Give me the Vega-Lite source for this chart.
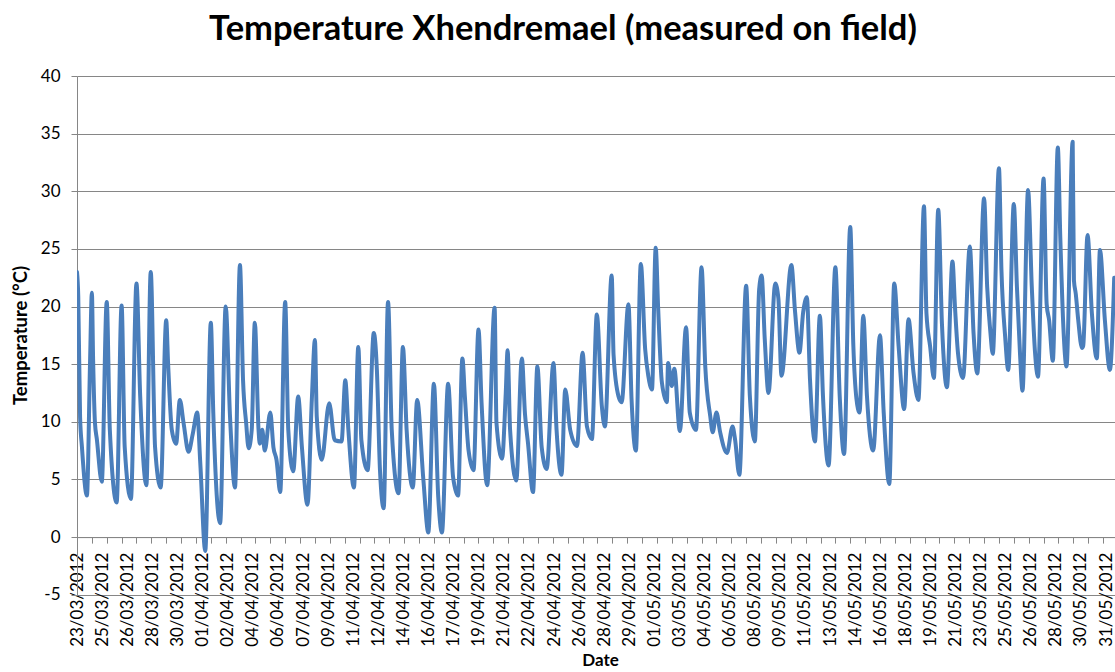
{
"$schema": "https://vega.github.io/schema/vega-lite/v6.json",
"width": 1038, "height": 518.7,
"autosize": {"type": "none"},
"padding": {"left": 77, "top": 76, "right": 0, "bottom": 77.3},
"background": "white",
"config": {"view": {"stroke": null}},
"title": {"text": "Temperature Xhendremael (measured on field)", "font": "Lato", "fontSize": 34.5, "fontWeight": "bold", "color": "#000000", "anchor": "middle", "frame": "group", "dx": -33, "dy": 42, "baseline": "alphabetic", "offset": 35},
"data": {"values": [
{"date":"2012-03-23T14:00","temp":23.0},{"date":"2012-03-23T16:00","temp":20.9},{"date":"2012-03-23T19:00","temp":10.4},{"date":"2012-03-23T22:00","temp":7.8},{"date":"2012-03-24T06:00","temp":3.6},{"date":"2012-03-24T11:00","temp":15.0},{"date":"2012-03-24T14:00","temp":21.2},{"date":"2012-03-24T16:00","temp":15.4},{"date":"2012-03-24T19:00","temp":9.9},{"date":"2012-03-24T22:00","temp":8.5},
{"date":"2012-03-25T06:00","temp":4.8},{"date":"2012-03-25T14:00","temp":20.4},{"date":"2012-03-25T19:00","temp":9.3},{"date":"2012-03-26T06:00","temp":3.0},{"date":"2012-03-26T14:00","temp":20.1},{"date":"2012-03-26T19:00","temp":7.8},{"date":"2012-03-27T05:00","temp":3.3},{"date":"2012-03-27T14:00","temp":22.0},{"date":"2012-03-27T20:00","temp":12.2},{"date":"2012-03-28T06:00","temp":4.5},
{"date":"2012-03-28T13:00","temp":23.0},{"date":"2012-03-28T20:00","temp":7.8},{"date":"2012-03-29T05:00","temp":4.3},{"date":"2012-03-29T14:00","temp":18.8},{"date":"2012-03-29T17:00","temp":15.1},{"date":"2012-03-29T23:00","temp":9.3},{"date":"2012-03-30T06:00","temp":8.1},{"date":"2012-03-30T12:00","temp":11.9},{"date":"2012-03-30T18:00","temp":9.9},{"date":"2012-03-31T02:00","temp":7.4},
{"date":"2012-03-31T09:00","temp":9.0},{"date":"2012-03-31T16:00","temp":10.8},{"date":"2012-03-31T21:00","temp":6.4},{"date":"2012-04-01T05:00","temp":-1.2},{"date":"2012-04-01T14:00","temp":18.6},{"date":"2012-04-01T18:00","temp":10.7},{"date":"2012-04-02T05:00","temp":1.2},{"date":"2012-04-02T14:00","temp":20.0},{"date":"2012-04-02T21:00","temp":10.4},{"date":"2012-04-03T05:00","temp":4.3},
{"date":"2012-04-03T13:00","temp":23.6},{"date":"2012-04-03T18:00","temp":13.6},{"date":"2012-04-03T23:00","temp":9.9},{"date":"2012-04-04T03:00","temp":7.7},{"date":"2012-04-04T08:00","temp":9.3},{"date":"2012-04-04T13:00","temp":18.6},{"date":"2012-04-04T19:00","temp":9.3},{"date":"2012-04-04T21:00","temp":8.1},{"date":"2012-04-05T01:00","temp":9.3},{"date":"2012-04-05T05:00","temp":7.5},
{"date":"2012-04-05T14:00","temp":10.8},{"date":"2012-04-05T19:00","temp":7.8},{"date":"2012-04-06T00:00","temp":6.7},{"date":"2012-04-06T06:00","temp":3.9},{"date":"2012-04-06T14:00","temp":20.4},{"date":"2012-04-06T19:00","temp":9.3},{"date":"2012-04-07T03:00","temp":5.7},{"date":"2012-04-07T11:00","temp":12.2},{"date":"2012-04-07T17:00","temp":7.8},{"date":"2012-04-08T02:00","temp":2.8},
{"date":"2012-04-08T09:00","temp":11.9},{"date":"2012-04-08T14:00","temp":17.1},{"date":"2012-04-08T17:00","temp":10.4},{"date":"2012-04-09T01:00","temp":6.7},{"date":"2012-04-09T13:00","temp":11.6},{"date":"2012-04-09T22:00","temp":8.4},{"date":"2012-04-10T09:00","temp":8.3},{"date":"2012-04-10T15:00","temp":13.6},{"date":"2012-04-10T20:00","temp":9.3},{"date":"2012-04-11T05:00","temp":4.3},
{"date":"2012-04-11T12:00","temp":16.5},{"date":"2012-04-11T17:00","temp":8.4},{"date":"2012-04-12T03:00","temp":5.8},{"date":"2012-04-12T13:00","temp":17.7},{"date":"2012-04-12T18:00","temp":14.5},{"date":"2012-04-12T23:00","temp":5.8},{"date":"2012-04-13T05:00","temp":2.5},{"date":"2012-04-13T12:00","temp":20.4},{"date":"2012-04-13T18:00","temp":9.3},{"date":"2012-04-14T05:00","temp":3.8},
{"date":"2012-04-14T12:00","temp":16.5},{"date":"2012-04-14T18:00","temp":9.3},{"date":"2012-04-15T04:00","temp":4.3},{"date":"2012-04-15T11:00","temp":11.9},{"date":"2012-04-15T21:00","temp":5.0},{"date":"2012-04-16T05:00","temp":0.4},{"date":"2012-04-16T14:00","temp":13.3},{"date":"2012-04-16T21:00","temp":3.5},{"date":"2012-04-17T03:00","temp":0.4},{"date":"2012-04-17T13:00","temp":13.3},
{"date":"2012-04-17T21:00","temp":5.2},{"date":"2012-04-18T05:00","temp":3.6},{"date":"2012-04-18T12:00","temp":15.5},{"date":"2012-04-18T16:00","temp":12.2},{"date":"2012-04-18T22:00","temp":7.5},{"date":"2012-04-19T06:00","temp":5.8},{"date":"2012-04-19T14:00","temp":18.0},{"date":"2012-04-19T19:00","temp":11.6},{"date":"2012-04-20T04:00","temp":4.5},{"date":"2012-04-20T16:00","temp":19.9},
{"date":"2012-04-20T19:00","temp":9.9},{"date":"2012-04-21T04:00","temp":6.8},{"date":"2012-04-21T10:00","temp":12.5},{"date":"2012-04-21T13:00","temp":16.2},{"date":"2012-04-21T17:00","temp":9.3},{"date":"2012-04-22T03:00","temp":4.9},{"date":"2012-04-22T12:00","temp":15.5},{"date":"2012-04-22T17:00","temp":10.7},{"date":"2012-04-22T22:00","temp":8.1},{"date":"2012-04-23T06:00","temp":3.9},
{"date":"2012-04-23T13:00","temp":14.8},{"date":"2012-04-23T20:00","temp":7.8},{"date":"2012-04-24T04:00","temp":5.9},{"date":"2012-04-24T15:00","temp":15.1},{"date":"2012-04-24T20:00","temp":9.3},{"date":"2012-04-25T04:00","temp":5.4},{"date":"2012-04-25T10:00","temp":12.8},{"date":"2012-04-25T18:00","temp":9.3},{"date":"2012-04-26T05:00","temp":7.9},{"date":"2012-04-26T14:00","temp":16.0},
{"date":"2012-04-26T21:00","temp":9.6},{"date":"2012-04-27T05:00","temp":8.5},{"date":"2012-04-27T13:00","temp":19.3},{"date":"2012-04-27T21:00","temp":11.4},{"date":"2012-04-28T02:00","temp":9.6},{"date":"2012-04-28T13:00","temp":22.7},{"date":"2012-04-28T16:00","temp":15.8},{"date":"2012-04-29T00:00","temp":12.2},{"date":"2012-04-29T05:00","temp":11.7},{"date":"2012-04-29T16:00","temp":20.2},
{"date":"2012-04-29T21:00","temp":12.0},{"date":"2012-04-30T04:00","temp":7.5},{"date":"2012-04-30T12:00","temp":23.7},{"date":"2012-04-30T19:00","temp":16.3},{"date":"2012-05-01T00:00","temp":14.0},{"date":"2012-05-01T06:00","temp":12.8},{"date":"2012-05-01T12:00","temp":25.1},{"date":"2012-05-01T16:00","temp":19.8},{"date":"2012-05-01T22:00","temp":13.4},{"date":"2012-05-02T06:00","temp":11.7},
{"date":"2012-05-02T08:00","temp":15.1},{"date":"2012-05-02T14:00","temp":13.1},{"date":"2012-05-02T18:00","temp":14.6},{"date":"2012-05-03T03:00","temp":9.2},{"date":"2012-05-03T13:00","temp":18.2},{"date":"2012-05-03T19:00","temp":10.8},{"date":"2012-05-04T05:00","temp":9.3},{"date":"2012-05-04T14:00","temp":23.4},{"date":"2012-05-04T20:00","temp":14.8},{"date":"2012-05-05T04:00","temp":10.5},
{"date":"2012-05-05T08:00","temp":9.1},{"date":"2012-05-05T14:00","temp":10.8},{"date":"2012-05-05T20:00","temp":9.1},{"date":"2012-05-06T07:00","temp":7.3},{"date":"2012-05-06T16:00","temp":9.6},{"date":"2012-05-06T20:00","temp":8.5},{"date":"2012-05-07T03:00","temp":5.4},{"date":"2012-05-07T14:00","temp":21.8},{"date":"2012-05-07T20:00","temp":12.2},{"date":"2012-05-08T04:00","temp":8.3},
{"date":"2012-05-08T11:00","temp":21.5},{"date":"2012-05-08T15:00","temp":22.7},{"date":"2012-05-08T20:00","temp":17.2},{"date":"2012-05-09T02:00","temp":12.5},{"date":"2012-05-09T13:00","temp":22.0},{"date":"2012-05-09T18:00","temp":20.7},{"date":"2012-05-09T23:00","temp":14.0},{"date":"2012-05-10T15:00","temp":23.6},{"date":"2012-05-10T21:00","temp":19.5},{"date":"2012-05-11T04:00","temp":16.0},
{"date":"2012-05-11T10:00","temp":19.5},{"date":"2012-05-11T16:00","temp":20.8},{"date":"2012-05-11T21:00","temp":13.7},{"date":"2012-05-12T05:00","temp":8.3},{"date":"2012-05-12T13:00","temp":19.2},{"date":"2012-05-12T18:00","temp":12.2},{"date":"2012-05-13T03:00","temp":6.2},{"date":"2012-05-13T14:00","temp":23.4},{"date":"2012-05-13T21:00","temp":12.2},{"date":"2012-05-14T04:00","temp":7.2},
{"date":"2012-05-14T14:00","temp":26.9},{"date":"2012-05-14T19:00","temp":16.6},{"date":"2012-05-15T00:00","temp":12.0},{"date":"2012-05-15T05:00","temp":10.8},{"date":"2012-05-15T11:00","temp":19.2},{"date":"2012-05-15T17:00","temp":12.2},{"date":"2012-05-16T03:00","temp":7.5},{"date":"2012-05-16T14:00","temp":17.5},{"date":"2012-05-16T20:00","temp":10.8},{"date":"2012-05-17T05:00","temp":4.6},
{"date":"2012-05-17T13:00","temp":22.0},{"date":"2012-05-17T20:00","temp":16.6},{"date":"2012-05-18T05:00","temp":11.1},{"date":"2012-05-18T12:00","temp":18.9},{"date":"2012-05-18T20:00","temp":14.3},{"date":"2012-05-19T04:00","temp":11.9},{"date":"2012-05-19T13:00","temp":28.7},{"date":"2012-05-19T17:00","temp":19.4},{"date":"2012-05-19T23:00","temp":16.5},{"date":"2012-05-20T05:00","temp":13.8},
{"date":"2012-05-20T12:00","temp":28.4},{"date":"2012-05-20T18:00","temp":18.5},{"date":"2012-05-21T02:00","temp":13.0},{"date":"2012-05-21T11:00","temp":23.9},{"date":"2012-05-21T15:00","temp":20.0},{"date":"2012-05-21T20:00","temp":15.9},{"date":"2012-05-22T04:00","temp":13.8},{"date":"2012-05-22T15:00","temp":25.2},{"date":"2012-05-22T21:00","temp":17.7},{"date":"2012-05-23T03:00","temp":14.2},
{"date":"2012-05-23T14:00","temp":29.4},{"date":"2012-05-23T19:00","temp":21.7},{"date":"2012-05-24T00:00","temp":17.9},{"date":"2012-05-24T04:00","temp":15.9},{"date":"2012-05-24T14:00","temp":32.0},{"date":"2012-05-24T18:00","temp":23.2},{"date":"2012-05-25T00:00","temp":17.4},{"date":"2012-05-25T05:00","temp":14.5},{"date":"2012-05-25T14:00","temp":28.9},{"date":"2012-05-25T19:00","temp":21.7},
{"date":"2012-05-26T00:00","temp":15.9},{"date":"2012-05-26T04:00","temp":12.7},{"date":"2012-05-26T13:00","temp":30.1},{"date":"2012-05-26T19:00","temp":21.7},{"date":"2012-05-27T00:00","temp":16.2},{"date":"2012-05-27T05:00","temp":13.9},{"date":"2012-05-27T14:00","temp":31.1},{"date":"2012-05-27T19:00","temp":20.2},{"date":"2012-05-27T23:00","temp":18.8},{"date":"2012-05-28T05:00","temp":15.3},
{"date":"2012-05-28T13:00","temp":33.8},{"date":"2012-05-28T17:00","temp":26.0},{"date":"2012-05-28T22:00","temp":18.2},{"date":"2012-05-29T03:00","temp":14.8},{"date":"2012-05-29T13:00","temp":34.3},{"date":"2012-05-29T15:00","temp":22.3},{"date":"2012-05-29T18:00","temp":21.1},{"date":"2012-05-29T22:00","temp":18.8},{"date":"2012-05-30T04:00","temp":16.4},{"date":"2012-05-30T06:00","temp":16.6},
{"date":"2012-05-30T13:00","temp":26.2},{"date":"2012-05-30T20:00","temp":19.4},{"date":"2012-05-31T04:00","temp":15.5},{"date":"2012-05-31T09:00","temp":24.9},{"date":"2012-05-31T17:00","temp":18.8},{"date":"2012-06-01T01:00","temp":14.5},{"date":"2012-06-01T08:00","temp":22.5}
]},
"mark": {"type": "line", "color": "#4A7EBB", "strokeWidth": 4, "strokeJoin": "round", "strokeCap": "round", "interpolate": "monotone", "clip": true},
"encoding": {
"x": {"field": "date", "type": "temporal",
 "scale": {"domain": [{"year": 2012, "month": 3, "date": 23, "hours": 14}, {"year": 2012, "month": 6, "date": 1, "hours": 9, "minutes": 18}]},
 "axis": {"title": "Date", "offset": -57.6, "grid": false,
  "values": ["2012-03-23T14:24","2012-03-25T06:54","2012-03-26T23:24","2012-03-28T15:54","2012-03-30T08:24","2012-04-01T00:54","2012-04-02T17:24","2012-04-04T09:54","2012-04-06T02:24","2012-04-07T18:54","2012-04-09T11:24","2012-04-11T03:54","2012-04-12T20:24","2012-04-14T12:54","2012-04-16T05:24","2012-04-17T21:54","2012-04-19T14:24","2012-04-21T06:54","2012-04-22T23:24","2012-04-24T15:54","2012-04-26T08:24","2012-04-28T00:54","2012-04-29T17:24","2012-05-01T09:54","2012-05-03T02:24","2012-05-04T18:54","2012-05-06T11:24","2012-05-08T03:54","2012-05-09T20:24","2012-05-11T12:54","2012-05-13T05:24","2012-05-14T21:54","2012-05-16T14:24","2012-05-18T06:54","2012-05-19T23:24","2012-05-21T15:54","2012-05-23T08:24","2012-05-25T00:54","2012-05-26T17:24","2012-05-28T09:54","2012-05-30T02:24","2012-05-31T18:54",
   "2012-03-23T14:00","2012-03-24T14:00","2012-03-25T14:00","2012-03-26T14:00","2012-03-27T14:00","2012-03-28T14:00","2012-03-29T14:00","2012-03-30T14:00","2012-03-31T14:00",
   "2012-04-01T14:00","2012-04-02T14:00","2012-04-03T14:00","2012-04-04T14:00","2012-04-05T14:00","2012-04-06T14:00","2012-04-07T14:00","2012-04-08T14:00","2012-04-09T14:00","2012-04-10T14:00","2012-04-11T14:00","2012-04-12T14:00","2012-04-13T14:00","2012-04-14T14:00","2012-04-15T14:00","2012-04-16T14:00","2012-04-17T14:00","2012-04-18T14:00","2012-04-19T14:00","2012-04-20T14:00","2012-04-21T14:00","2012-04-22T14:00","2012-04-23T14:00","2012-04-24T14:00","2012-04-25T14:00","2012-04-26T14:00","2012-04-27T14:00","2012-04-28T14:00","2012-04-29T14:00","2012-04-30T14:00",
   "2012-05-01T14:00","2012-05-02T14:00","2012-05-03T14:00","2012-05-04T14:00","2012-05-05T14:00","2012-05-06T14:00","2012-05-07T14:00","2012-05-08T14:00","2012-05-09T14:00","2012-05-10T14:00","2012-05-11T14:00","2012-05-12T14:00","2012-05-13T14:00","2012-05-14T14:00","2012-05-15T14:00","2012-05-16T14:00","2012-05-17T14:00","2012-05-18T14:00","2012-05-19T14:00","2012-05-20T14:00","2012-05-21T14:00","2012-05-22T14:00","2012-05-23T14:00","2012-05-24T14:00","2012-05-25T14:00","2012-05-26T14:00","2012-05-27T14:00","2012-05-28T14:00","2012-05-29T14:00","2012-05-30T14:00","2012-05-31T14:00"],
  "labelExpr": "minutes(datum.value) == 0 ? '' : timeFormat(datum.value, '%d/%m/%Y')",
  "labelAngle": -90, "labelAlign": "right", "labelBaseline": "middle", "labelOverlap": false, "labelFlush": false, "labelBound": false,
  "labelFont": "Lato", "labelFontSize": 17, "labelColor": "#000000", "labelPadding": 9,
  "tickSize": 6, "tickColor": "#868686", "tickWidth": 1,
  "tickOpacity": {"condition": {"test": "minutes(datum.value) != 0", "value": 0}, "value": 1},
  "domainColor": "#868686", "domainWidth": 1,
  "titleFont": "Lato", "titleFontSize": 17, "titleFontWeight": "bold", "titleColor": "#000000",
  "titleX": 523, "titleY": 123, "titleAlign": "center", "titleBaseline": "middle"}},
"y": {"field": "temp", "type": "quantitative",
 "scale": {"domain": [-5, 40], "nice": false, "zero": false},
 "axis": {"title": "Temperature (°C)", "values": [-5,0,5,10,15,20,25,30,35,40],
  "labelExpr": "replace(datum.label, '−', '-')",
  "grid": true, "gridColor": "#868686", "gridWidth": 1,
  "domainColor": "#868686", "domainWidth": 1, "tickColor": "#868686", "tickSize": 6,
  "labelFont": "Lato", "labelFontSize": 17, "labelColor": "#000000", "labelPadding": 11,
  "titleFont": "Lato", "titleFontSize": 18.5, "titleFontWeight": "bold", "titleColor": "#000000",
  "titleX": -57, "titleY": 259, "titleAngle": -90, "titleAlign": "center", "titleBaseline": "middle"}}
}
}
